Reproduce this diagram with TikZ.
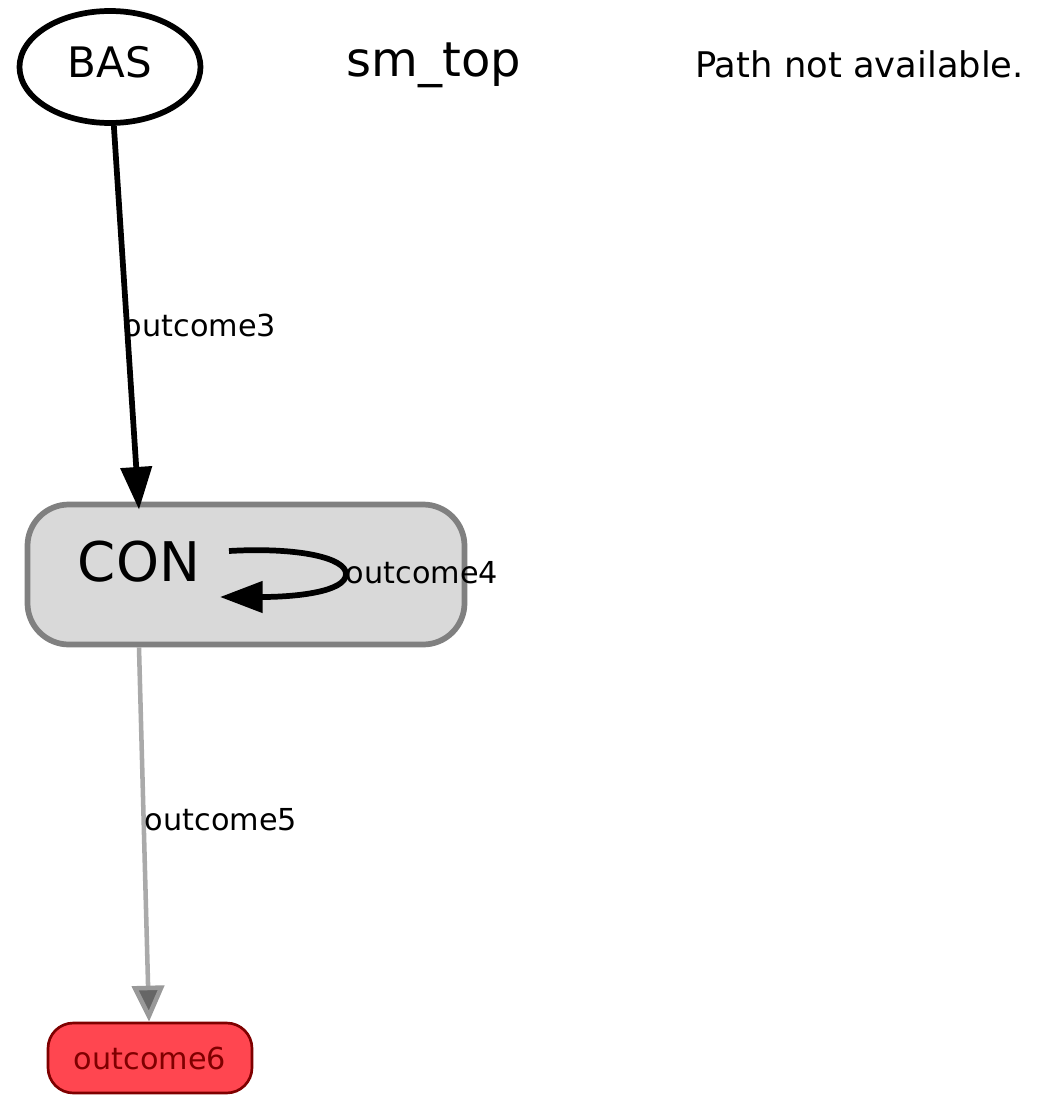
\documentclass[tikz,border=0pt]{standalone}
\usepackage{fontspec}
\setmainfont{DejaVu Sans}
\usetikzlibrary{shapes,arrows.meta}

\tikzset{
	statebas/.style={ellipse,draw=black,fill=white,line width=4.3pt,minimum width=135.75pt,minimum height=84pt,inner sep=0pt,text depth=7.5pt,font=\fontsize{31.5}{36}\selectfont},
	statebox/.style={rectangle,rounded corners=31pt,draw=boxline,fill=boxfill,line width=4.3pt,minimum width=327.75pt,minimum height=105pt},
	outbox/.style={rectangle,rounded corners=19pt,draw=outline,fill=outfill,text=outline,line width=2pt,minimum width=153pt,minimum height=52.5pt,inner sep=0pt,font=\fontsize{22.7}{26}\selectfont},
	edgelabel/.style={inner sep=0pt,font=\fontsize{22.7}{26}\selectfont},
	trans/.style={draw=black,line width=4.3pt,-{Triangle[length=32pt,width=23pt]}},
	fadedtrans/.style={draw=fadeline,line width=3.4pt,-{Triangle[length=27pt,width=24pt,fill=arrowfill,color=arrowline]}}
}

\begin{document}
\begin{tikzpicture}[x=0.75pt,y=-0.75pt]
					\definecolor{boxfill}{HTML}{D9D9D9}
					\definecolor{boxline}{HTML}{808080}
					\definecolor{outfill}{HTML}{FF4650}
					\definecolor{outline}{HTML}{7F0000}
					\definecolor{fadeline}{HTML}{AAAAAA}
					\definecolor{arrowfill}{HTML}{666666}
					\definecolor{arrowline}{HTML}{999999}
					
					\useasboundingbox (0,0) rectangle (1036,1113);
					
					% states
					\node[statebas] (bas) at (110,67) {BAS};
					\node[statebox] (con) at (246,574.5) {};
					\node[inner sep=0pt,font=\fontsize{41}{46}\selectfont] (contxt) at (139,562) {CON};
					\node[outbox] (out6) at (150,1058) {outcome6};
					
					% titles
					\node[anchor=base,font=\fontsize{36}{40}\selectfont] (title) at (434,77) {sm\_top};
					\node[anchor=base,font=\fontsize{26.5}{30}\selectfont] (path) at (859.5,78) {Path not available.};
					
					% transitions
					\draw[trans] (bas) -- ([yshift=-6pt]con.north -| contxt);
					\draw[trans] ([shift={(90,-11)}]contxt.center) .. controls +(70,-4) and +(0,-16) .. ([shift={(207,12)}]contxt.center) .. controls +(0,18) and +(75,0) .. ([shift={(81,35)}]contxt.center);
					\draw[fadedtrans] (con.south -| contxt) -- (out6);
					
					% labels
					\node[edgelabel] (lab3) at (200,325) {outcome3};
					\node[edgelabel] (lab4) at (422,573) {outcome4};
					\node[edgelabel] (lab5) at (221,820) {outcome5};
\end{tikzpicture}
\end{document}
